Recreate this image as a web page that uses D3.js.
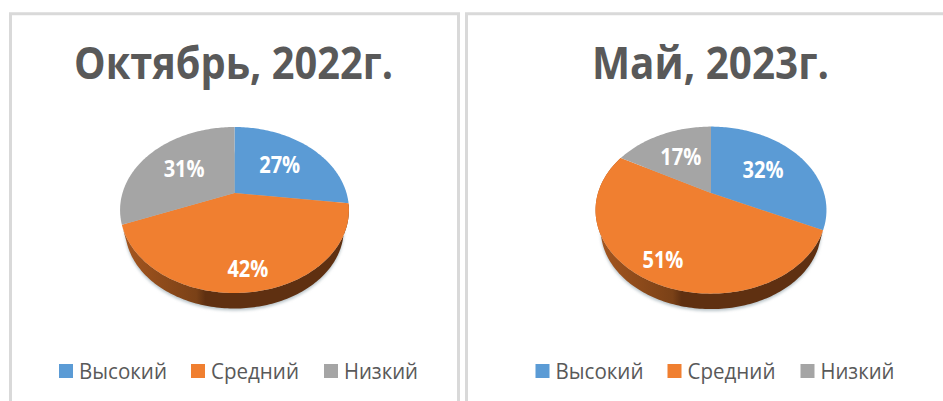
<!DOCTYPE html>
<html>
<head>
<meta charset="utf-8">
<script src="https://cdn.jsdelivr.net/npm/d3@7"></script>
<style>
  html, body { margin: 0; padding: 0; background: #fff; overflow: hidden; }
  text { font-family: "Open Sans", "Noto Sans", sans-serif; }
</style>
</head>
<body>
<div id="chart-container"></div>
<script>
// Data
const categories = ["Высокий", "Средний", "Низкий"];
const octoberValues = [27, 42, 31];
const mayValues = [32, 51, 17];
const chartTitles = ["Октябрь, 2022г.", "Май, 2023г."];

const width = 943;
const height = 401;

const color = d3.scaleOrdinal()
    .domain(categories)
    .range(["#5b9bd5", "#f07f30", "#a5a5a5"]);

// how far out along the slice each percent label sits
const labelRadius = d3.scaleOrdinal()
    .domain(categories)
    .range([0.58, 0.8, 0.58]);

const svg = d3.select('#chart-container')
    .append('svg')
    .attr('width', width)
    .attr('height', height)
    .style('display', 'block');

const defs = svg.append('defs');

defs.append('filter')
    .attr('id', 'soft')
    .attr('x', '-10%').attr('y', '-10%')
    .attr('width', '120%').attr('height', '120%')
    .append('feGaussianBlur')
    .attr('stdDeviation', 1.6);

// Frames
const frameColor = '#d9d9d9';
svg.append('path')
    .attr('d', 'M10.5,401V13.8H458.5V401')
    .attr('fill', 'none')
    .attr('stroke', frameColor)
    .attr('stroke-width', 3);
svg.append('path')
    .attr('d', 'M466.5,401V13.8H943')
    .attr('fill', 'none')
    .attr('stroke', frameColor)
    .attr('stroke-width', 3);

const pie = d3.pie().sort(null).value(d => d.value);

function drawPanel(cfg) {
    const g = svg.append('g');

    // perspective view of the pie: the circle is tilted so the far half looks shorter
    const k = 0.205;
    const project = (ang, r, rx, ry, cy) => {
        const u = r * Math.sin(ang);
        const v = -r * Math.cos(ang);
        const w = 1 - k * v;
        return [cfg.cx + rx * u / w, cy + ry * v / w];
    };
    const top = (ang, r = 1) => project(ang, r, cfg.rx, cfg.ry, cfg.cy);
    const bottom = ang => project(ang, 1, cfg.rx * 0.955, cfg.ry * 0.955, cfg.cy + cfg.depth);

    const line = d3.line();
    const arcAngles = (a0, a1) => {
        const n = Math.ceil((a1 - a0) / 0.02);
        return d3.range(n + 1).map(i => a0 + (a1 - a0) * i / n);
    };

    const slices = pie(categories.map((c, i) => ({ name: c, value: cfg.values[i] })));

    // soft shadow under the pie
    g.append('path')
        .attr('d', line(arcAngles(0, 2 * Math.PI).map(bottom)) + 'Z')
        .attr('transform', 'translate(0,2)')
        .attr('fill', '#b9c4c9')
        .attr('filter', 'url(#soft)');

    // side wall of the front slice
    const grad = defs.append('linearGradient')
        .attr('id', cfg.id)
        .attr('gradientUnits', 'userSpaceOnUse')
        .attr('x1', cfg.cx - cfg.rx).attr('x2', cfg.cx + cfg.rx)
        .attr('y1', 0).attr('y2', 0);
    [[0, '#a5561f'], [0.33, '#7a4117'], [0.37, '#5f3011'], [1, '#5f3011']].forEach(s => {
        grad.append('stop').attr('offset', s[0]).attr('stop-color', s[1]);
    });

    const front = slices[1];
    const wallAngles = arcAngles(front.startAngle, front.endAngle);
    g.append('path')
        .attr('d', line(wallAngles.map(a => top(a)).concat(wallAngles.slice().reverse().map(bottom))) + 'Z')
        .attr('fill', `url(#${cfg.id})`);

    // top face
    g.selectAll('.slice')
        .data(slices)
        .enter()
        .append('path')
        .attr('class', 'slice')
        .attr('d', d => line([[cfg.cx, cfg.cy]].concat(arcAngles(d.startAngle, d.endAngle).map(a => top(a)))) + 'Z')
        .attr('fill', d => color(d.data.name));

    // percent labels
    g.selectAll('.pct')
        .data(slices)
        .enter()
        .append('text')
        .attr('class', 'pct')
        .attr('x', d => top((d.startAngle + d.endAngle) / 2, labelRadius(d.data.name))[0])
        .attr('y', d => top((d.startAngle + d.endAngle) / 2, labelRadius(d.data.name))[1] + 8.5)
        .attr('text-anchor', 'middle')
        .attr('font-size', 22.5)
        .attr('font-weight', 700)
        .attr('fill', '#fff')
        .attr('textLength', 41)
        .attr('lengthAdjust', 'spacingAndGlyphs')
        .text(d => d.data.value + '%');

    // title
    g.append('text')
        .attr('x', cfg.titleX)
        .attr('y', 79)
        .attr('text-anchor', 'middle')
        .attr('font-size', 44)
        .attr('font-weight', 700)
        .attr('fill', '#595959')
        .attr('textLength', cfg.titleWidth)
        .attr('lengthAdjust', 'spacingAndGlyphs')
        .text(cfg.title);

    // legend
    const legendStep = [0, 132, 265];
    const legendWidths = [88, 88, 74];
    const legend = g.selectAll('.legend')
        .data(categories)
        .enter()
        .append('g')
        .attr('class', 'legend')
        .attr('transform', (d, i) => `translate(${cfg.legendX + legendStep[i]},364)`);
    legend.append('rect')
        .attr('width', 14)
        .attr('height', 14)
        .attr('fill', d => color(d));
    legend.append('text')
        .attr('x', 20)
        .attr('y', 14.5)
        .attr('font-size', 21)
        .attr('fill', '#595959')
        .attr('textLength', (d, i) => legendWidths[i])
        .attr('lengthAdjust', 'spacingAndGlyphs')
        .text(d => d);
}

drawPanel({
    id: 'wall-oct', title: chartTitles[0], values: octoberValues,
    cx: 234.5, cy: 193, rx: 112, ry: 79.5, depth: 20, titleX: 233.5, titleWidth: 319, legendX: 59
});
drawPanel({
    id: 'wall-may', title: chartTitles[1], values: mayValues,
    cx: 711, cy: 193, rx: 113, ry: 80, depth: 20, titleX: 710.5, titleWidth: 237, legendX: 535.5
});
</script>
</body>
</html>
